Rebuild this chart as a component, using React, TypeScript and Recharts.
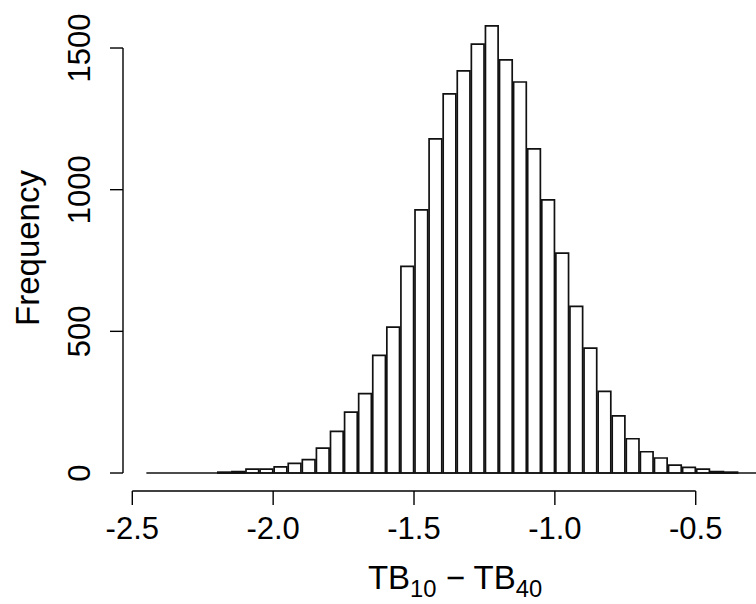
import React from 'react';
import { ComposedChart, Bar, XAxis, YAxis, ReferenceLine, Label } from 'recharts';

// Histogram bins (left edges) and frequencies
const binLefts = [
  -2.45, -2.4, -2.35, -2.3, -2.25, -2.2, -2.15, -2.1, -2.05, -2.0,
  -1.95, -1.9, -1.85, -1.8, -1.75, -1.7, -1.65, -1.6, -1.55, -1.5,
  -1.45, -1.4, -1.35, -1.3, -1.25, -1.2, -1.15, -1.1, -1.05, -1.0,
  -0.95, -0.9, -0.85, -0.8, -0.75, -0.7, -0.65, -0.6, -0.55, -0.5,
  -0.45, -0.4, -0.35, -0.3,
];
const counts = [
  0, 0, 0, 0, 0, 3, 5, 14, 14, 22,
  34, 47, 88, 147, 215, 280, 415, 515, 729, 929,
  1179, 1338, 1419, 1514, 1578, 1458, 1380, 1144, 964, 776,
  588, 441, 288, 202, 121, 75, 53, 28, 20, 14,
  5, 3, 0, 0,
];
const binWidth = 0.05;
const xTicks = [-2.5, -2.0, -1.5, -1.0, -0.5];
const xTickLabels = ['-2.5', '-2.0', '-1.5', '-1.0', '-0.5'];
const yTicks = [0, 500, 1000, 1500];
const yTickLabels = ['0', '500', '1000', '1500'];

const data = binLefts.map((l, i) => ({ mid: l + binWidth / 2, count: counts[i] }));

const X_MIN = -2.533;
const X_MAX = -0.176;
const Y_MIN = -63.5;
const Y_MAX = 1651.8;

const CHART_W = 800;
const CHART_H = 604;
const Y_AXIS_W = 123;
const X_AXIS_H = 113;
const MARGIN = { top: 5, right: 13, bottom: 0, left: 0 };
const plotW = CHART_W - Y_AXIS_W - MARGIN.left - MARGIN.right;
const barSize = (plotW * binWidth) / (X_MAX - X_MIN);

const FONT = '"Liberation Sans", Arial, Helvetica, sans-serif';
const TICK_FS = 31;
const TITLE_FS = 33;

const XTick = (props: any) => {
  const { x, y, payload } = props;
  const i = xTicks.indexOf(payload.value);
  return (
    <text x={x} y={y + 32} textAnchor="middle" fontSize={TICK_FS} fontFamily={FONT} fill="#000">
      {i >= 0 ? xTickLabels[i] : payload.value}
    </text>
  );
};

const YTick = (props: any) => {
  const { x, y, payload } = props;
  const i = yTicks.indexOf(payload.value);
  const tx = x - 18;
  return (
    <text
      x={tx}
      y={y}
      textAnchor="middle"
      fontSize={TICK_FS}
      fontFamily={FONT}
      fill="#000"
      transform={`rotate(-90, ${tx}, ${y})`}
    >
      {i >= 0 ? yTickLabels[i] : payload.value}
    </text>
  );
};

const YTitle = (props: any) => {
  const vb = props.viewBox || {};
  const cy = (vb.y ?? 5) + (vb.height ?? 486) / 2;
  const tx = 39;
  return (
    <text
      x={tx}
      y={cy}
      textAnchor="middle"
      fontSize={TITLE_FS}
      fontFamily={FONT}
      fill="#000"
      transform={`rotate(-90, ${tx}, ${cy})`}
    >
      Frequency
    </text>
  );
};

const XTitle = (props: any) => {
  const vb = props.viewBox || {};
  const cx = (vb.x ?? 123) + (vb.width ?? 664) / 2;
  const y = 589;
  return (
    <text x={cx} y={y} textAnchor="middle" fontSize={TITLE_FS} fontFamily={FONT} fill="#000">
      <tspan>TB</tspan>
      <tspan fontSize={TITLE_FS * 0.72} dy={8}>10</tspan>
      <tspan dy={-8}>{' \u2212 TB'}</tspan>
      <tspan fontSize={TITLE_FS * 0.72} dy={8}>40</tspan>
    </text>
  );
};

export default function App() {
  return (
    <div
      style={{
        position: 'fixed',
        top: 0,
        left: 0,
        width: 756,
        height: 604,
        overflow: 'hidden',
        background: '#fff',
      }}
    >
      <ComposedChart width={CHART_W} height={CHART_H} data={data} margin={MARGIN} barCategoryGap={0} barGap={0}>
        <XAxis
          type="number"
          dataKey="mid"
          domain={[X_MIN, X_MAX]}
          allowDataOverflow
          ticks={xTicks}
          interval={0}
          height={X_AXIS_H}
          axisLine={false}
          tickLine={{ stroke: '#000', strokeWidth: 1.4 }}
          tickSize={14}
          tick={<XTick />}
        >
          <Label content={<XTitle />} />
        </XAxis>
        <YAxis
          type="number"
          domain={[Y_MIN, Y_MAX]}
          allowDataOverflow
          ticks={yTicks}
          interval={0}
          width={Y_AXIS_W}
          axisLine={false}
          tickLine={{ stroke: '#000', strokeWidth: 1.4 }}
          tickSize={13}
          tick={<YTick />}
        >
          <Label content={<YTitle />} />
        </YAxis>
        <ReferenceLine
          segment={[{ x: X_MIN, y: 0 }, { x: X_MIN, y: 1500 }]}
          stroke="#000"
          strokeWidth={1.4}
          ifOverflow="visible"
        />
        <ReferenceLine
          segment={[{ x: -2.5, y: Y_MIN }, { x: -0.5, y: Y_MIN }]}
          stroke="#000"
          strokeWidth={1.4}
          ifOverflow="visible"
        />
        <ReferenceLine
          segment={[{ x: binLefts[0], y: 0 }, { x: binLefts[binLefts.length - 1] + binWidth, y: 0 }]}
          stroke="#111"
          strokeWidth={1.7}
          ifOverflow="visible"
        />
        <Bar
          dataKey="count"
          fill="#fff"
          stroke="#111"
          strokeWidth={1.7}
          barSize={barSize}
          isAnimationActive={false}
        />
      </ComposedChart>
    </div>
  );
}
